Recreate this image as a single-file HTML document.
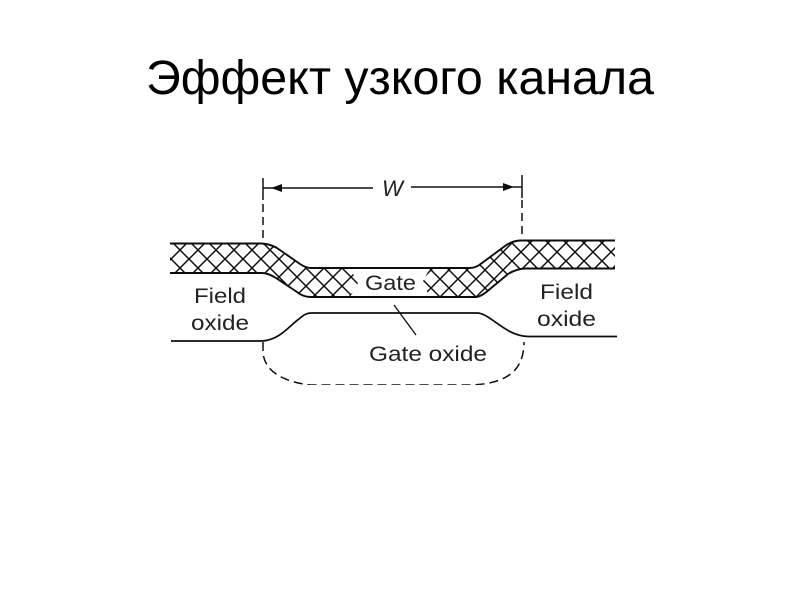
<!DOCTYPE html>
<html><head><meta charset="utf-8">
<style>html,body{margin:0;padding:0;background:#fff;width:800px;height:600px;overflow:hidden}svg{display:block}</style>
</head><body>
<svg width="800" height="600" viewBox="0 0 800 600" xmlns="http://www.w3.org/2000/svg">
<defs>
<pattern id="h" width="18" height="18" patternUnits="userSpaceOnUse" patternTransform="translate(171 241)">
<path d="M0 0L18 18M0 18L18 0" stroke="#111" stroke-width="1.500" fill="none"/>
</pattern>
<pattern id="h2" width="18" height="18" patternUnits="userSpaceOnUse" patternTransform="translate(422 243)">
<path d="M0 0L18 18M0 18L18 0" stroke="#111" stroke-width="1.500" fill="none"/>
</pattern>
<clipPath id="c"><path d="M170 230H350V268L358 283L350 297V310H170Z"/></clipPath>
<clipPath id="c2"><path d="M616 230V310H430V297L422 283L430 268V230Z"/></clipPath>
<filter id="b" x="0" y="0" width="100%" height="100%"><feGaussianBlur stdDeviation="0.35"/></filter>
</defs>
<rect width="800" height="600" fill="#fff"/>
<text x="146" y="94" font-family="'Liberation Sans',sans-serif" font-size="48" fill="#000" textLength="508" lengthAdjust="spacingAndGlyphs">Эффект узкого канала</text>
<g filter="url(#b)">
<path d="M170 243.500H262Q270 244 277 248L300 264Q306 268 311 268H470Q476 268 482 263L505 246Q512 241 520 240.500H615V268.500H525Q516 269 508 274L490 289Q482 296 477 296H311Q303 297 297 292L276 278Q268 273 262 273H170Z" fill="url(#h)" clip-path="url(#c)"/>
<path d="M170 243.500H262Q270 244 277 248L300 264Q306 268 311 268H470Q476 268 482 263L505 246Q512 241 520 240.500H615V268.500H525Q516 269 508 274L490 289Q482 296 477 296H311Q303 297 297 292L276 278Q268 273 262 273H170Z" fill="url(#h2)" clip-path="url(#c2)"/>
<g fill="none" stroke="#111" stroke-width="1.900">
<path d="M170 243.500H262Q270 244 277 248L300 264Q306 268 311 268H470Q476 268 482 263L505 246Q512 241 520 240.500H615"/>
<path d="M170 273H262Q268 273 276 278L297 292Q303 297 311 297H477Q482 296 490 289L508 274Q516 269 525 268.500H615"/>
<path d="M171 341H262C280 340 290 325 299 319Q305 313 311 313H477C490 313 505 336 528 336.500H617" stroke-width="1.700"/>
<path d="M394 305L416 335" stroke-width="1.300"/>
<path d="M263 178V200M522 175V198" stroke-width="1.500"/>
<path d="M263 188H373M411 187H522" stroke-width="1.500"/>
<path d="M263 204V242M522 200V238" stroke-dasharray="8 5" stroke-width="1.500"/>
<path d="M263 342V352C264 372 285 382 310 385H470C505 384 524 372 524 342" stroke-dasharray="9 5" stroke-width="1.500"/>
</g>
<path d="M271 188L282 184V192ZM514 187L503 183V191Z" fill="#111"/>
<g font-family="'Liberation Sans',sans-serif" font-size="21" fill="#222">
<text x="194" y="303" textLength="52" lengthAdjust="spacingAndGlyphs">Field</text>
<text x="191" y="330" textLength="58" lengthAdjust="spacingAndGlyphs">oxide</text>
<text x="540" y="299" textLength="53" lengthAdjust="spacingAndGlyphs">Field</text>
<text x="537" y="326" textLength="59" lengthAdjust="spacingAndGlyphs">oxide</text>
<text x="365" y="290" textLength="51" lengthAdjust="spacingAndGlyphs">Gate</text>
<text x="369" y="361" textLength="118" lengthAdjust="spacingAndGlyphs">Gate oxide</text>
<text x="382" y="196" font-style="italic" font-size="22" textLength="21" lengthAdjust="spacingAndGlyphs">W</text>
</g>
</g>
</svg>
</body></html>
